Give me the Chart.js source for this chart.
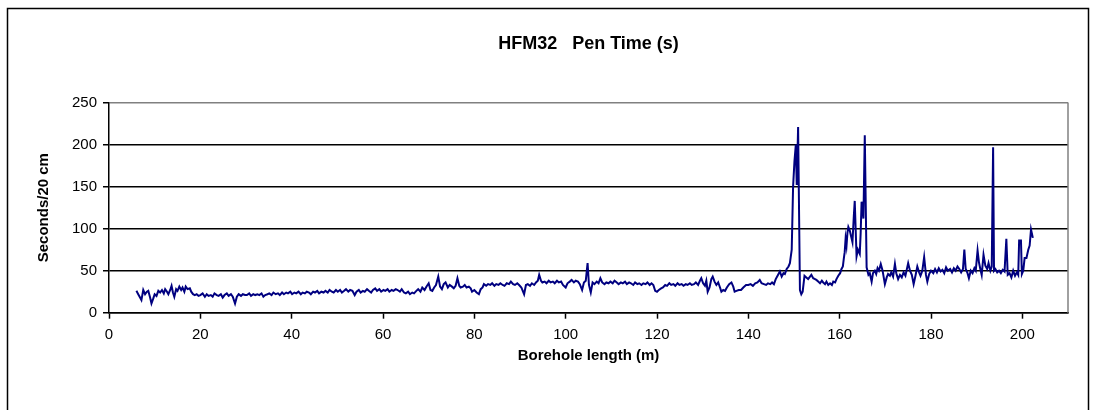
<!DOCTYPE html>
<html><head><meta charset="utf-8">
<script src="https://cdn.jsdelivr.net/npm/chart.js@4/dist/chart.umd.min.js"></script>
<style>html,body{margin:0;padding:0;background:#fff;}canvas{display:block;}</style>
</head><body>
<canvas id="c" width="1097" height="410"></canvas>
<script>
// Borehole length (m) of each reading
const depthM = [
6.0,6.4,6.8,7.1,7.5,7.9,8.3,8.6,9.0,9.3, 9.7,10.0,10.4,10.8,11.2,11.6,12.0,12.3,12.7,13.0, 13.4,13.7,14.0,14.3,14.7,15.0,15.4,15.8,16.1,16.5, 16.8,17.2,17.7,18.0,18.4,18.8,19.2,19.6,
20.0,20.5,21.0,21.4,21.8,22.3,22.7,23.1,23.6,24.0, 24.5,24.9,25.3,25.8,26.2,26.7,27.1,27.6,28.0,28.4, 28.9,29.3,29.8,30.2,30.7,31.1,31.6,32.0,32.5,32.9, 33.4,33.8,34.2,34.7,35.1,35.6,36.0,36.5,37.0,37.4, 37.9,38.3,38.8,39.2,39.7,
40.1,40.6,41.0,41.5,42.0,42.4,42.9,43.3,43.8,44.2, 44.7,45.1,45.6,46.0,46.5,47.0,47.4,47.9,48.3,48.8, 49.2,49.7,50.1,50.6,51.0,51.5,51.9,52.4,52.8,53.3, 53.8,54.2,54.7,55.1,55.6,56.0,56.5,56.9,57.4,57.8, 58.3,58.7,59.2,59.6,
60.1,60.5,61.0,61.4,61.9,62.3,62.8,63.2,63.7,64.1, 64.6,65.0,65.5,65.9,66.4,66.8,67.3,67.7,68.2,68.6, 69.1,69.5,70.0,70.4,70.8,71.2,71.6,72.1,72.5,72.9, 73.3,73.7,74.2,74.6,75.1,75.5,75.9,76.3,76.7,77.0, 77.5,77.9,78.3,78.8,79.2,79.5,80.0,
80.5,81.0,81.4,81.8,82.1,82.6,83.0,83.5,83.9,84.4, 84.8,85.3,85.7,86.2,86.6,87.1,87.6,88.0,88.5,88.9, 89.4,89.8,90.3,90.6,90.9,91.3,91.7,92.2,92.6,93.1, 93.5,93.9,94.2,94.6,94.9,95.4,95.8,96.3,96.7,97.2, 97.6,98.1,98.5,99.0,99.4,100.0,
100.4,100.9,101.3,101.8,102.2,102.7,103.1,103.6,104.0,104.4, 104.8,105.1,105.5,105.9,106.3,106.8,107.2,107.6,108.0,108.5, 108.9,109.4,109.8,110.3,110.7,111.2,111.6,112.1,112.5,113.0, 113.4,113.9,114.3,114.8,115.2,115.7,116.1,116.6,117.0,117.5, 117.9,118.4,118.8,119.2,119.6,120.0,120.4,
120.9,121.3,121.8,122.2,122.7,123.1,123.6,124.0,124.5,124.9, 125.4,125.8,126.3,126.7,127.2,127.6,128.1,128.5,129.0,129.4, 129.7,130.1,130.5,130.8,131.1,131.5,131.9,132.2,132.6,133.0, 133.4,133.8,134.1,134.5,134.9,135.3,135.8,136.3,136.7,137.0, 137.4,137.9,138.4,138.9,139.5,
140.0,140.5,141.0,141.5,142.0,142.5,142.9,143.4,143.9,144.3, 144.8,145.2,145.6,146.0,146.4,146.9,147.3,147.7,148.0,148.4, 148.8,149.1,149.5,149.8,150.1,150.4,150.6,150.9,151.3,151.6, 151.9,
152.3,152.7,153.1,153.5,153.8,154.2,154.6,154.9,155.3,155.7, 156.1,156.4,156.8,157.1,157.5,157.9,158.3,158.6,159.0,159.3, 159.7,160.1,160.4,160.7,160.9,161.1,161.3,161.5,161.7,161.9, 162.2,162.5,162.8,163.1,163.3,163.5,163.7,164.0,164.4,164.6, 164.8,165.0,165.2,165.5,165.9,166.3,
166.6,167.0,167.3,167.7,168.0,168.3,168.6,169.0,169.4,169.9, 170.3,170.6,171.0,171.3,171.7,172.1,172.4,172.8,173.2,173.6, 174.0,174.4,175.0,175.4,175.8,176.2,176.6,177.0,177.4,177.7, 178.1,178.5,178.9,179.2,179.6,
180.0,180.5,180.9,181.3,181.7,182.1,182.5,182.9,183.3,183.7, 184.2,184.6,185.0,185.4,185.8,186.2,186.6,187.0,187.3,187.6, 188.0,188.3,188.7,189.1,189.5,189.8,190.2,190.5,190.8,191.1, 191.5,191.9,192.3,192.6,193.0,193.3,
193.6,193.8,194.1,194.5,194.9,195.3,195.7,196.1,196.5,196.8, 197.2,197.6,198.0,198.4,198.8,199.1,199.3,199.7,199.9,200.2, 200.5,200.9,201.3,201.6,201.9,202.3
];
// Pen time, seconds per 20 cm
const penTimeS = [
26,22,18,15,27,22,25,26,18,11, 17,22,20,26,24,27,23,28,25,22, 27,32,24,19,28,26,31,27,30,25, 31,28,29,25,22,21,22,20,
21,23,19,22,20,21,19,23,21,20, 22,18,21,23,20,22,19,11,19,22, 20,22,21,21,23,20,22,21,22,21, 23,19,21,22,23,21,24,22,23,21, 24,22,24,23,25,
22,24,23,25,22,24,23,25,24,22, 25,24,26,23,25,24,26,24,27,25, 24,27,25,27,24,26,28,25,27,26, 21,25,27,24,26,25,28,26,24,27, 29,26,28,25,
27,26,28,25,27,26,28,27,25,28, 24,23,25,22,24,23,26,28,25,30, 27,31,35,27,26,30,33,43,31,28, 34,36,30,33,31,29,32,41,32,30, 31,33,30,31,29,25,27,
24,22,28,30,34,32,34,33,35,32, 34,33,35,33,32,35,34,37,34,33, 35,33,30,26,22,33,34,32,35,33, 36,38,45,38,36,37,35,38,36,37, 35,38,36,37,33,30,
35,37,39,36,38,37,34,27,36,38, 59,33,24,36,34,37,35,41,36,34, 36,35,37,35,38,36,34,36,35,37, 34,36,35,33,36,34,35,33,35,34, 36,33,35,33,26,25,27,
29,30,33,32,35,33,34,32,35,33, 34,32,34,33,35,33,34,36,33,38, 41,35,32,38,25,30,40,43,37,33, 36,30,25,27,26,30,34,36,31,25, 26,27,27,30,33,
33,34,32,35,36,39,35,34,33,35, 34,36,34,40,44,49,43,47,46,52, 55,59,75,150,180,200,152,221,27,22, 25,
44,42,40,43,45,41,40,39,37,35, 38,36,34,37,33,35,33,37,36,40, 44,47,52,55,64,72,88,80,95,102, 98,91,84,115,133,100,67,75,70,95, 132,125,112,211,54,45,
47,37,47,50,46,53,50,58,50,34, 42,46,44,48,43,58,47,40,45,42, 48,44,59,50,45,34,44,55,48,44, 50,66,45,37,46,
50,47,52,48,53,49,51,47,54,50, 52,48,53,50,55,52,48,52,75,52, 47,41,50,47,53,50,74,60,52,45, 69,56,52,59,50,55,
197,50,52,48,50,47,51,49,88,45, 47,42,50,44,48,45,86,86,46,50, 65,65,75,80,99,89
];
// Axis ranges and tick steps
const xRange = [0, 210];
const xStep = 20;
const yRange = [0, 250];
const yStep = 50;

const FONT = "'Liberation Sans', Arial, sans-serif";
const n = Math.min(depthM.length, penTimeS.length);
const points = [];
for (let i = 0; i < n; i++) points.push({x: depthM[i], y: penTimeS[i]});

const framePlugin = {
  id: 'frame',
  beforeDraw(chart) {
    const ctx = chart.ctx;
    ctx.save();
    ctx.fillStyle = '#fff';
    ctx.fillRect(0, 0, chart.width, chart.height);
    ctx.restore();
  },
  afterDraw(chart) {
    const {ctx, chartArea: a} = chart;
    ctx.save();
    ctx.strokeStyle = '#808080';
    ctx.lineWidth = 1.5;
    ctx.beginPath();
    ctx.moveTo(a.right, a.top);
    ctx.lineTo(a.right, a.bottom);
    ctx.stroke();
    ctx.strokeStyle = '#000';
    ctx.lineWidth = 1.5;
    ctx.strokeRect(7.5, 8.5, 1081, 420);
    ctx.restore();
  }
};

new Chart(document.getElementById('c'), {
  type: 'line',
  data: {
    datasets: [{
      data: points,
      borderColor: '#000080',
      borderWidth: 2,
      pointRadius: 0,
      tension: 0,
      fill: false
    }]
  },
  options: {
    responsive: false,
    animation: false,
    devicePixelRatio: 1,
    layout: {padding: {left: 0, right: 29, top: 0, bottom: 0}},
    plugins: {
      legend: {display: false},
      tooltip: {enabled: false},
      title: {
        display: true,
        text: 'HFM32   Pen Time (s)',
        fullSize: false,
        color: '#000',
        font: {family: FONT, size: 18, weight: 'bold'},
        padding: {top: 33, bottom: 48}
      }
    },
    scales: {
      x: {
        type: 'linear',
        min: xRange[0], max: xRange[1],
        ticks: {stepSize: xStep, includeBounds: false, color: '#000', font: {family: FONT, size: 15}, padding: 7, maxRotation: 0},
        grid: {drawOnChartArea: false, drawTicks: true, tickLength: 6, tickColor: '#000', tickWidth: 1.5},
        border: {color: '#000', width: 1.5},
        title: {display: true, text: 'Borehole length (m)', color: '#000', font: {family: FONT, size: 15, weight: 'bold'}, padding: {top: 0, bottom: 45}},
        afterFit(s) { s.height = 97.3; }
      },
      y: {
        min: yRange[0], max: yRange[1],
        ticks: {stepSize: yStep, color: '#000', font: {family: FONT, size: 15}, padding: 6},
        grid: {
          color: (c) => (c.tick && c.tick.value === yRange[1]) ? '#808080' : '#000',
          lineWidth: 1.5, tickLength: 6, tickColor: '#000', tickWidth: 1.5
        },
        border: {color: '#000', width: 1.5},
        title: {display: true, text: 'Seconds/20 cm', color: '#000', font: {family: FONT, size: 15, weight: 'bold'}, padding: {top: 35, bottom: 0}},
        afterFit(s) { s.width = 109; }
      }
    }
  },
  plugins: [framePlugin]
});
</script>
</body></html>
